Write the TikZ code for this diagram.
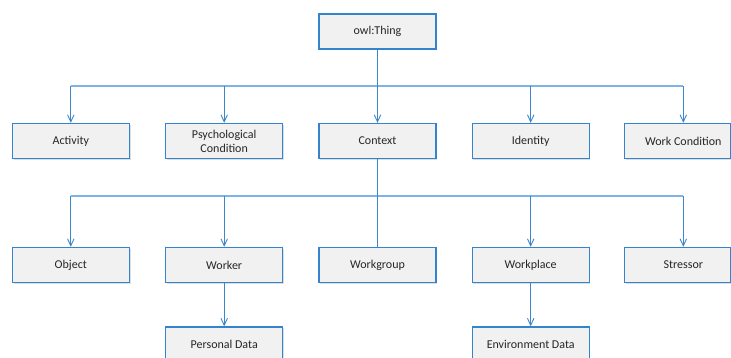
\documentclass[tikz,border=0pt]{standalone}
\usepackage{fontspec}
\setmainfont{Carlito}
\usetikzlibrary{arrows.meta,shadows}
\definecolor{boxborder}{HTML}{3483CD}
\definecolor{boxfill}{HTML}{F1F1F1}
\definecolor{linedark}{HTML}{3C87CC}
\definecolor{linelight}{HTML}{7DB3E6}
\definecolor{txt}{HTML}{262626}
\tikzset{
  box/.style={draw=boxborder, line width=1.3pt, fill=boxfill, minimum width=117pt, minimum height=35pt,
    inner sep=0pt, align=center, font=\fontsize{12}{14}\selectfont, text=txt,
    drop shadow={shadow xshift=1.2pt, shadow yshift=-1.2pt, fill=black!25, opacity=0.5}},
  arr/.style={draw=linedark, line width=0.9pt, -{Straight Barb[length=7pt,width=6.5pt,line width=0.9pt]}},
  plain/.style={draw=linedark, line width=0.9pt},
  bus/.style={draw=linelight, line width=1.1pt}
}
\begin{document}
\begin{tikzpicture}[x=1pt,y=-1pt]
\useasboundingbox (0,0) rectangle (731,358);
\fill[white] (0,0) rectangle (731,358);
% nodes
\node[box] (thing) at (377.5,31.5) {owl:Thing};
\node[box] (activity) at (70.8,141) {Activity};
\node[box] (psych) at (224.2,141) {Psychological\\Condition};
\node[box] (context) at (377.5,141) {Context};
\node[box] (identity) at (530.7,141) {Identity};
\node[box] (workcond) at (683.3,141) {Work Condition};
\node[box] (object) at (70.8,265) {Object};
\node[box] (worker) at (224.2,265) {Worker};
\node[box] (workgroup) at (377.5,265) {Workgroup};
\node[box] (workplace) at (530.7,265) {Workplace};
\node[box] (stressor) at (683.3,265) {Stressor};
\node[box] (personal) at (224.2,344.5) {Personal Data};
\node[box] (environment) at (530.7,344.5) {Environment Data};
\coordinate (busA) at (377.5,86);
\coordinate (busB) at (377.5,196);
% bus lines
\draw[bus] (activity.north |- busA) -- (workcond.north |- busA);
\draw[bus] (object.north |- busB) -- (stressor.north |- busB);
% level 1
\draw[arr] (thing.south) -- (context.north);
\draw[arr] (activity.north |- busA) -- (activity.north);
\draw[arr] (psych.north |- busA) -- (psych.north);
\draw[arr] (identity.north |- busA) -- (identity.north);
\draw[arr] (workcond.north |- busA) -- (workcond.north);
% level 2
\draw[plain] (context.south) -- (workgroup.north);
\draw[arr] (object.north |- busB) -- (object.north);
\draw[arr] (worker.north |- busB) -- (worker.north);
\draw[arr] (workplace.north |- busB) -- (workplace.north);
\draw[arr] (stressor.north |- busB) -- (stressor.north);
% level 3
\draw[arr] (worker.south) -- (personal.north);
\draw[arr] (workplace.south) -- (environment.north);
% right edge border of cropped boxes
\draw[boxborder, line width=1.2pt] (730.4,123.5) -- (730.4,158.5);
\draw[boxborder, line width=1.2pt] (730.4,247.5) -- (730.4,282.5);
\end{tikzpicture}
\end{document}
